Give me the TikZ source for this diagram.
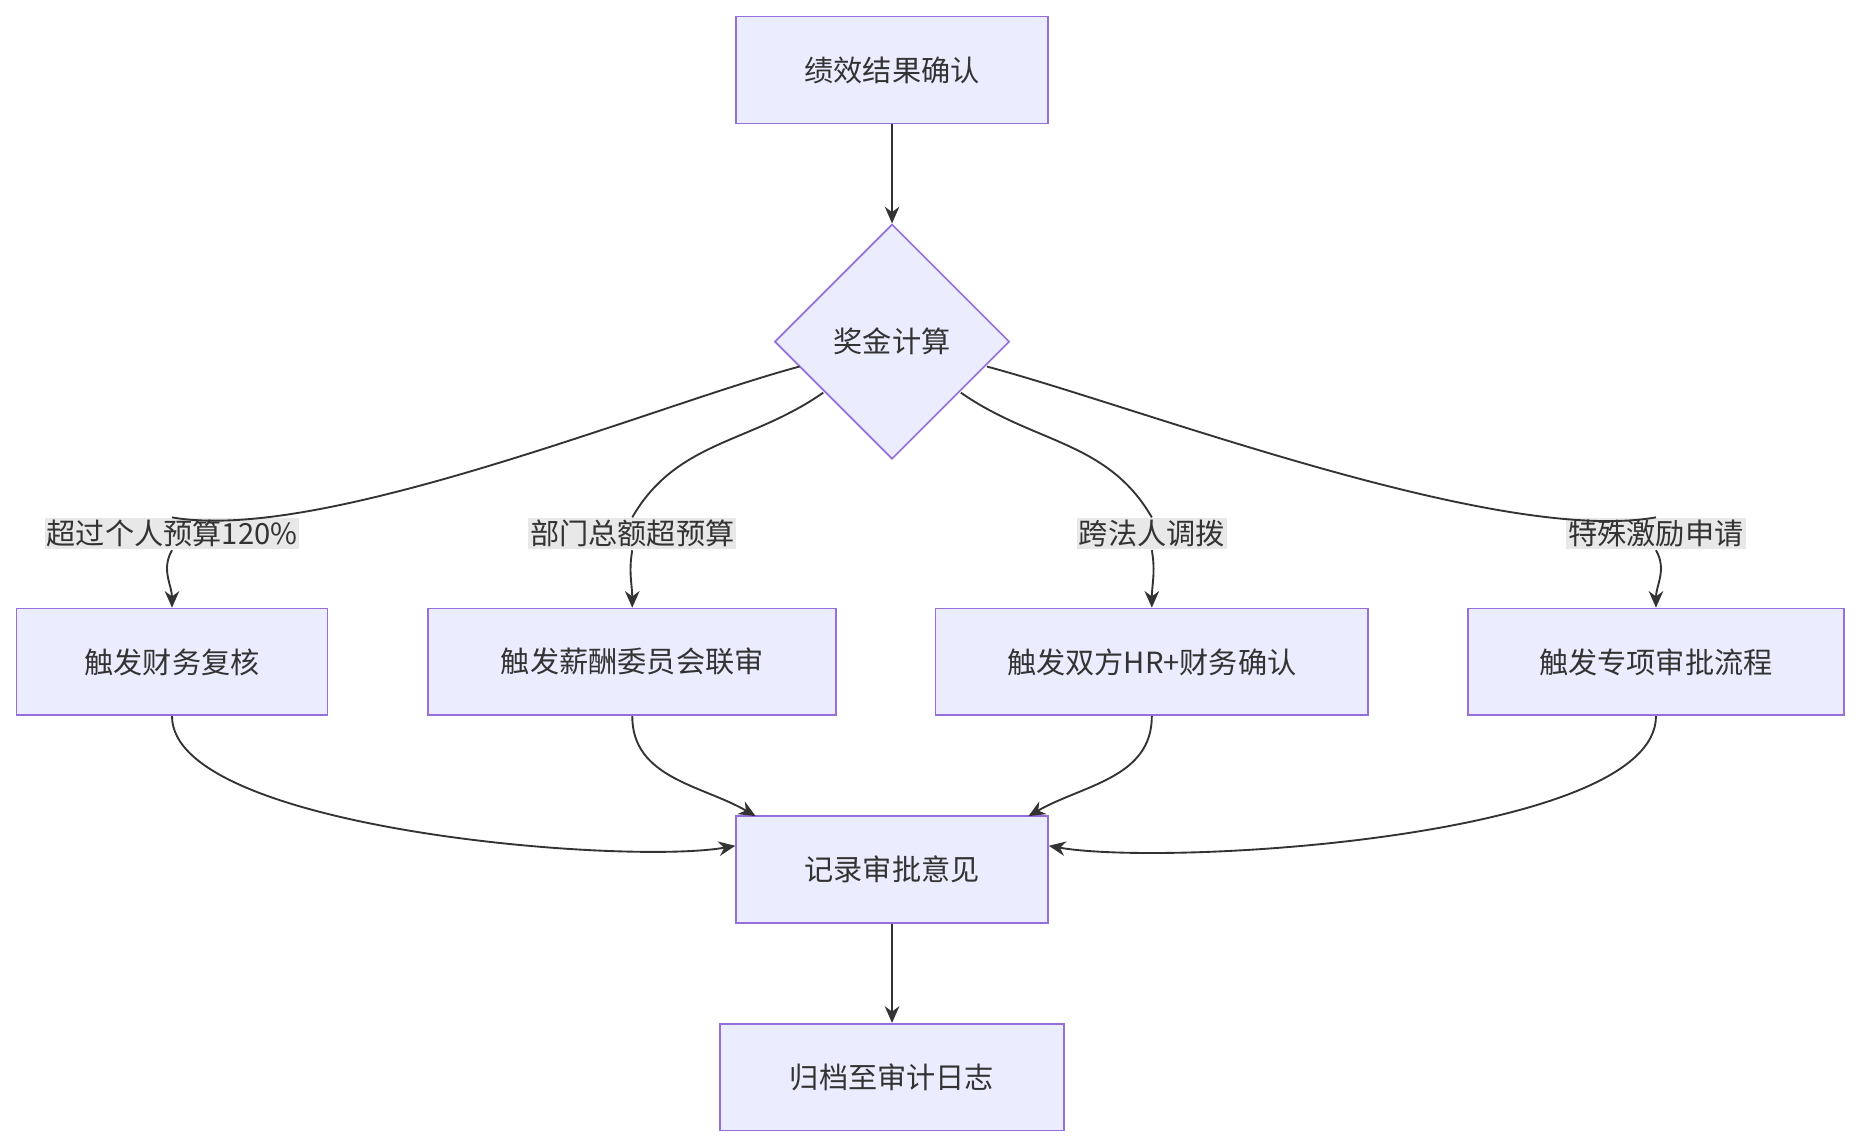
\documentclass[tikz,border=0pt]{standalone}
\usepackage{fontspec}
\setmainfont{Noto Sans CJK SC}
\usetikzlibrary{arrows.meta,shapes.geometric}
\definecolor{boxfill}{HTML}{ECECFF}
\definecolor{boxline}{HTML}{9370DB}
\definecolor{edgeline}{HTML}{333333}
\definecolor{lblfill}{HTML}{E8E8E8}

\begin{document}
\begin{tikzpicture}[x=0.02cm,y=-0.02cm,thick,
  font=\fontsize{14}{16}\selectfont,
  step node/.style={rectangle,fill=boxfill,draw=boxline,
    minimum height=1.8cm,text=edgeline},
  check node/.style={diamond,fill=boxfill,draw=boxline,
    minimum size=3.96cm,inner sep=0pt,text=edgeline},
  cond label/.style={fill=lblfill,inner sep=1pt,text=edgeline},
  flow/.style={draw=edgeline,line width=0.9pt,-{Stealth[length=8pt,width=7pt]}},
  link/.style={draw=edgeline,line width=0.9pt}]

  \useasboundingbox (0,0) rectangle (1568,966);

  \node[step node,minimum width=5.26cm] (confirm) at (752,59) {绩效结果确认};
  \node[check node] (calc) at (752,288) {奖金计算};

  \node[cond label] (l1) at (145,450) {超过个人预算120\%};
  \node[cond label] (l2) at (533,450) {部门总额超预算};
  \node[cond label] (l3) at (971,450) {跨法人调拨};
  \node[cond label] (l4) at (1396,450) {特殊激励申请};

  \node[step node,minimum width=5.24cm] (finance) at (145,558) {触发财务复核};
  \node[step node,minimum width=6.88cm] (committee) at (533,558) {触发薪酬委员会联审};
  \node[step node,minimum width=7.3cm] (bothhr) at (971,558) {触发双方HR+财务确认};
  \node[step node,minimum width=6.34cm] (special) at (1396,558) {触发专项审批流程};

  \node[step node,minimum width=5.26cm] (record) at (752,733) {记录审批意见};
  \node[step node,minimum width=5.8cm] (archive) at (752,908) {归档至审计日志};

  \path[flow] (confirm) -- (calc);

  % branches: diamond -> label -> box
  \path[link] (calc.north west|-0,309) ++(-78,0) coordinate (c1)
    (674,309) to[out=195,in=-10,looseness=0.6] (l1.north);
  \path[link] (694,331) to[out=215,in=60] (l2.north);
  \path[link] (810,331) to[out=-35,in=120] (l3.north);
  \path[link] (832,309) to[out=-15,in=190,looseness=0.6] (l4.north);

  \path[flow] (l1.south) to[out=-120,in=90] (finance.north);
  \path[flow] (l2.south) to[out=-100,in=90] (committee.north);
  \path[flow] (l3.south) to[out=-80,in=90] (bothhr.north);
  \path[flow] (l4.south) to[out=-60,in=90] (special.north);

  % merge into record
  \path[flow] (finance.south) to[out=-90,in=190,looseness=0.5] (record.west|-0,713);
  \path[flow] (committee.south) to[out=-90,in=150] (637,688);
  \path[flow] (bothhr.south) to[out=-90,in=30] (867,688);
  \path[flow] (special.south) to[out=-90,in=-10,looseness=0.5] (record.east|-0,713);

  \path[flow] (record) -- (archive);
\end{tikzpicture}
\end{document}
